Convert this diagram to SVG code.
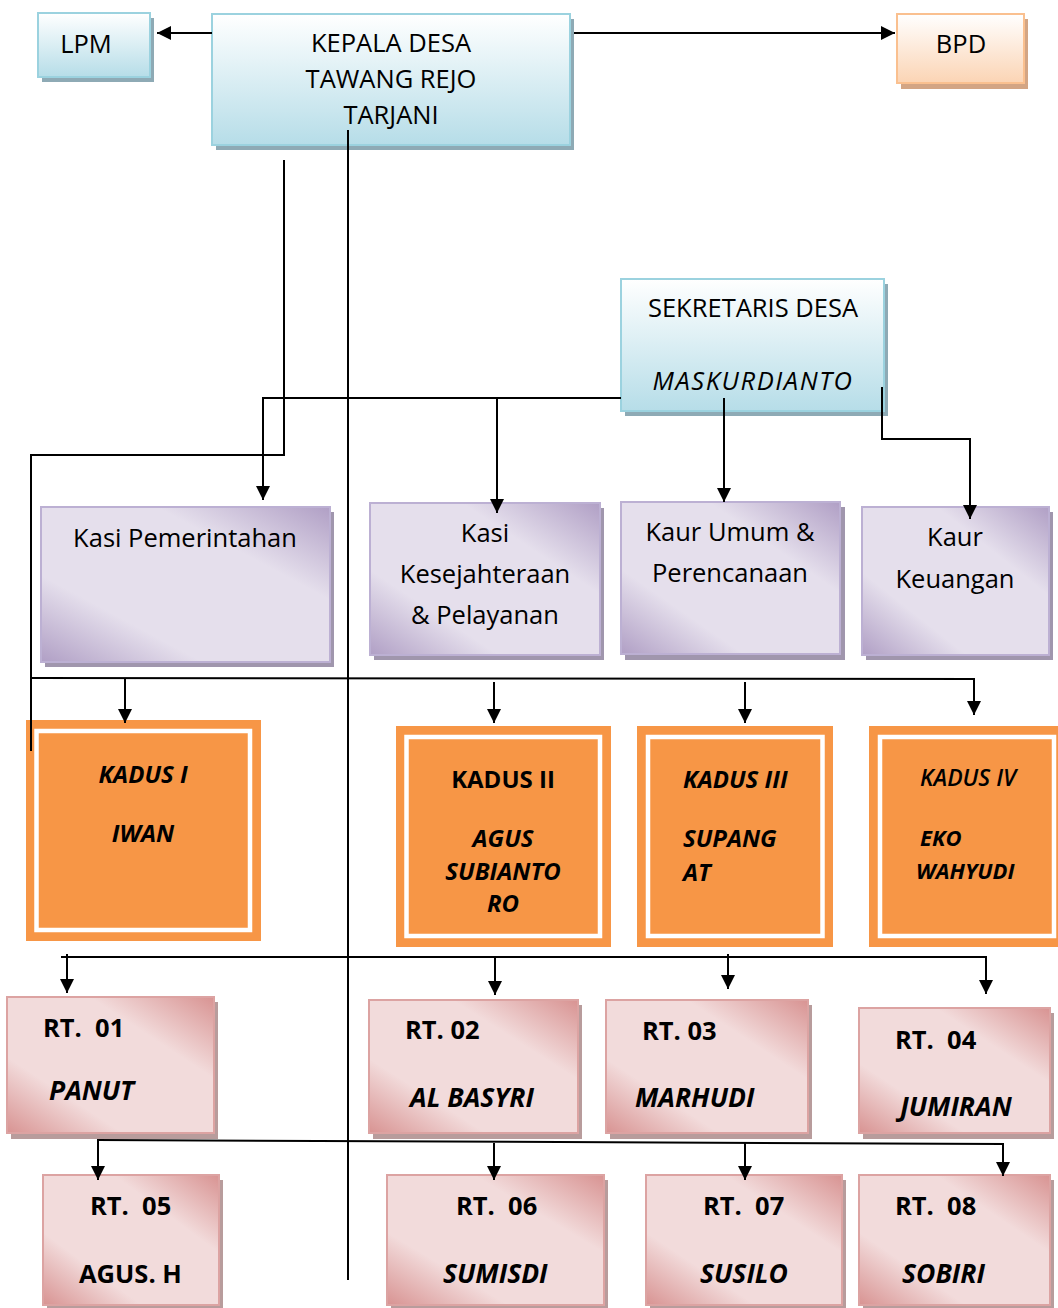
<svg xmlns="http://www.w3.org/2000/svg" width="1058" height="1308" viewBox="0 0 1058 1308">
<defs>
<linearGradient id="gBlue" x1="0" y1="0" x2="0" y2="1"><stop offset="0" stop-color="#ffffff"/><stop offset="1" stop-color="#b6dde8"/></linearGradient>
<linearGradient id="gPeach" x1="0" y1="0" x2="0" y2="1"><stop offset="0" stop-color="#ffffff"/><stop offset="1" stop-color="#fbd4b4"/></linearGradient>
<linearGradient id="gPurple" x1="0" y1="1" x2="1" y2="0"><stop offset="0" stop-color="#b09fc5"/><stop offset="0.28" stop-color="#e5dfec"/><stop offset="0.7" stop-color="#e5dfec"/><stop offset="1" stop-color="#b09fc5"/></linearGradient>
<linearGradient id="gPink" x1="0" y1="1" x2="1" y2="0"><stop offset="0" stop-color="#d89392"/><stop offset="0.28" stop-color="#f2dbdb"/><stop offset="0.7" stop-color="#f2dbdb"/><stop offset="1" stop-color="#d89392"/></linearGradient>
<marker id="arr" markerUnits="userSpaceOnUse" markerWidth="14" markerHeight="14" viewBox="0 0 14 14" refX="14" refY="7" orient="auto"><path d="M0,0 L14,7 L0,14 z" fill="#000"/></marker>
</defs>
<style>
text{font-family:"Open Sans","Noto Sans","DejaVu Sans",sans-serif;fill:#000;white-space:pre}
.n{font-size:25.5px}
.c{text-anchor:middle}
.b{font-size:25.5px;font-weight:bold}
.bi{font-size:26.5px;font-weight:bold;font-style:italic}
.ki{font-size:24px;font-weight:bold;font-style:italic}
.it{font-style:italic}
.shB{fill:#8eaab5}.shP{fill:#a096ad}.shK{fill:#b89c9c}.shO{fill:#d3a584}
.bB{fill:url(#gBlue);stroke:#9bd2df;stroke-width:2}
.bO{fill:url(#gPeach);stroke:#fac08f;stroke-width:2}
.bP{fill:url(#gPurple);stroke:#bcb0d3;stroke-width:2}
.bK{fill:url(#gPink);stroke:#dca3a2;stroke-width:2}
.ko{fill:#f79646}
.kw{fill:none;stroke:#ffffff;stroke-width:4.5}
.ln{fill:none;stroke:#000;stroke-width:2}
.ar{fill:none;stroke:#000;stroke-width:2;marker-end:url(#arr)}
</style>

<g id="lpm"><rect class="shB" x="42" y="18" width="112" height="64"/><rect class="bB" x="38" y="13" width="112" height="64"/><text class="n c" x="86" y="53">LPM</text></g>
<g id="kepala"><rect class="shB" x="216" y="19" width="358" height="131"/><rect class="bB" x="212" y="14" width="358" height="131"/>
<text class="n c" x="391" y="52">KEPALA DESA</text><text class="n c" x="391" y="88">TAWANG REJO</text><text class="n c" x="391" y="124">TARJANI</text></g>
<g id="bpd"><rect class="shO" x="901" y="19" width="127" height="70"/><rect class="bO" x="897" y="14" width="127" height="69"/><text class="n c" x="961" y="53">BPD</text></g>
<g id="sekretaris"><rect class="shB" x="625" y="284" width="263" height="132"/><rect class="bB" x="621" y="279" width="263" height="132"/>
<text class="n c" x="753" y="317">SEKRETARIS DESA</text><text class="n c it" x="753" y="390" style="letter-spacing:1.6px">MASKURDIANTO</text></g>

<g id="kasi-pemerintahan"><rect class="shP" x="45" y="512" width="289" height="155"/><rect class="bP" x="41" y="507" width="289" height="155"/><text class="n c" x="185" y="547">Kasi Pemerintahan</text></g>
<g id="kasi-kesejahteraan"><rect class="shP" x="374" y="508" width="230" height="152"/><rect class="bP" x="370" y="503" width="230" height="152"/>
<text class="n c" x="485" y="542">Kasi</text><text class="n c" x="485" y="583">Kesejahteraan</text><text class="n c" x="485" y="624">&amp; Pelayanan</text></g>
<g id="kaur-umum"><rect class="shP" x="625" y="507" width="220" height="153"/><rect class="bP" x="621" y="502" width="219" height="152"/>
<text class="n c" x="730" y="541">Kaur Umum &amp;</text><text class="n c" x="730" y="582">Perencanaan</text></g>
<g id="kaur-keuangan"><rect class="shP" x="866" y="512" width="187" height="148"/><rect class="bP" x="862" y="507" width="187" height="148"/>
<text class="n c" x="955" y="546">Kaur</text><text class="n c" x="955" y="588">Keuangan</text></g>

<g id="kadus1"><rect class="ko" x="26" y="720" width="235" height="221"/><rect class="kw" x="36.5" y="731" width="213.5" height="199"/>
<text class="ki c" x="143" y="783">KADUS I</text><text class="ki c" x="143" y="842">IWAN</text></g>
<g id="kadus2"><rect class="ko" x="396" y="726" width="215" height="221"/><rect class="kw" x="406.5" y="737" width="193.5" height="199"/>
<text class="c" x="503" y="788" style="font-size:24px;font-weight:bold">KADUS II</text><text class="ki c" x="503" y="847">AGUS</text><text class="ki c" x="503" y="880">SUBIANTO</text><text class="ki c" x="503" y="912">RO</text></g>
<g id="kadus3"><rect class="ko" x="637" y="726" width="196" height="221"/><rect class="kw" x="648" y="737" width="174.5" height="199"/>
<text class="ki" x="683" y="788">KADUS III</text><text class="ki" x="683" y="847">SUPANG</text><text class="ki" x="683" y="881">AT</text></g>
<g id="kadus4"><rect class="ko" x="869" y="726" width="189" height="221"/><rect class="kw" x="880" y="737" width="174" height="199"/>
<text class="it" x="920" y="786" style="font-size:23px;font-weight:600">KADUS IV</text><text class="ki" x="920" y="846" style="font-size:22px">EKO</text><text class="ki" x="916" y="879" style="font-size:22px">WAHYUDI</text></g>

<g id="rt01"><rect class="shK" x="11" y="1002" width="207" height="137"/><rect class="bK" x="7" y="997" width="207" height="136"/>
<text class="b" x="43" y="1037">RT.  01</text><text class="bi" x="49" y="1100">PANUT</text></g>
<g id="rt02"><rect class="shK" x="373" y="1005" width="209" height="134"/><rect class="bK" x="369" y="1000" width="209" height="133"/>
<text class="b" x="405" y="1039">RT. 02</text><text class="bi" x="410" y="1107">AL BASYRI</text></g>
<g id="rt03"><rect class="shK" x="610" y="1005" width="202" height="134"/><rect class="bK" x="606" y="1000" width="202" height="133"/>
<text class="b" x="642" y="1040">RT. 03</text><text class="bi" x="635" y="1107">MARHUDI</text></g>
<g id="rt04"><rect class="shK" x="863" y="1013" width="191" height="126"/><rect class="bK" x="859" y="1008" width="191" height="125"/>
<text class="b" x="895" y="1049">RT.  04</text><text class="bi" x="900" y="1116">JUMIRAN</text></g>
<g id="rt05"><rect class="shK" x="47" y="1180" width="176" height="130"/><rect class="bK" x="43" y="1175" width="176" height="130"/>
<text class="b" x="90" y="1215">RT.  05</text><text class="b" x="79" y="1283">AGUS. H</text></g>
<g id="rt06"><rect class="shK" x="391" y="1180" width="217" height="130"/><rect class="bK" x="387" y="1175" width="217" height="130"/>
<text class="b" x="456" y="1215">RT.  06</text><text class="bi" x="443" y="1283">SUMISDI</text></g>
<g id="rt07"><rect class="shK" x="650" y="1180" width="196" height="130"/><rect class="bK" x="646" y="1175" width="196" height="130"/>
<text class="b" x="703" y="1215">RT.  07</text><text class="bi" x="700" y="1283">SUSILO</text></g>
<g id="rt08"><rect class="shK" x="863" y="1180" width="191" height="130"/><rect class="bK" x="859" y="1175" width="191" height="130"/>
<text class="b" x="895" y="1215">RT.  08</text><text class="bi" x="902" y="1283">SOBIRI</text></g>

<g id="connectors">
<path class="ar" d="M212,33 H157"/>
<path class="ar" d="M574,33 H895"/>
<path class="ln" d="M348,130 V1280"/>
<path class="ln" d="M284,160 V455 H31 V751"/>
<path class="ar" d="M621,398 H263 V500"/>
<path class="ar" d="M497,398 V513"/>
<path class="ar" d="M724,398 V502"/>
<path class="ar" d="M882,387 V439 H970 V519"/>
<path class="ar" d="M31,678 L974,679 V715"/>
<path class="ar" d="M125,679 V723"/>
<path class="ar" d="M494,682 V723"/>
<path class="ar" d="M745,682 V723"/>
<path class="ar" d="M61,957 H986 V994"/>
<path class="ar" d="M67,954 V993"/>
<path class="ar" d="M495,957 V995"/>
<path class="ar" d="M728,954 V989"/>
<path class="ar" d="M97,1140 L1003,1144 V1176"/>
<path class="ar" d="M98,1140 V1180"/>
<path class="ar" d="M494,1143 V1180"/>
<path class="ar" d="M745,1143 V1180"/>
</g>
</svg>
